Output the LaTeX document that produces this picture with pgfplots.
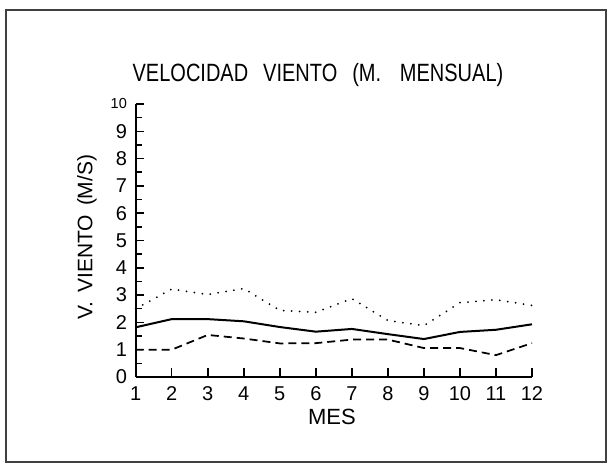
\documentclass[border=0pt]{standalone}
\usepackage{fontspec}
\setmainfont{Liberation Sans}
\newfontfamily\titlefont{Liberation Sans}[FakeStretch=0.8]
\usepackage{pgfplots}
\pgfplotsset{compat=1.18}
\begin{document}
\begin{tikzpicture}[x=0.4pt,y=0.4pt]
\path[use as bounding box] (0,0) rectangle (610,464);
\draw[line width=0.8pt, black!75] (6,2) rectangle (606,454);
\begin{axis}[
  at={(54.28pt,34.8pt)}, anchor=south west,
  scale only axis, width=158.5pt, height=109.2pt,
  xmin=1, xmax=12, ymin=0, ymax=10,
  axis lines*=left,
  axis line style={line width=0.8pt},
  xtick={1,...,12}, ytick={0,...,10},
  yticklabels={0,1,2,3,4,5,6,7,8,9,{\fontsize{5.8}{6}\selectfont 10}},
  minor y tick num=1,
  tick align=inside,
  major tick length=3.4pt, minor tick length=2.4pt,
  tick style={line width=0.6pt, black},
  /pgf/number format/assume math mode=true,
  tick label style={font=\fontsize{8}{9}\selectfont},
  xticklabel style={yshift=-0.4pt},
  title={\titlefont VELOCIDAD\hspace{6pt}VIENTO\hspace{6pt}(M.\hspace{7.5pt}MENSUAL)},
  title style={at={(axis description cs:0.46,1.052)}, anchor=center, font=\fontsize{10}{12}\selectfont},
  xlabel={MES},
  xlabel style={at={(axis description cs:0.495,-0.147)}, anchor=center, font=\fontsize{8.8}{10}\selectfont},
  ylabel={V.\hspace{3.5pt}VIENTO\hspace{3.5pt}(M/S)},
  ylabel style={at={(axis description cs:-0.123,0.513)}, anchor=center, rotate=0, font=\fontsize{8.4}{10}\selectfont},
  clip=false,
]
\addplot[black, line width=0.8pt] coordinates {
(1,1.82) (2,2.12) (3,2.12) (4,2.04) (5,1.83) (6,1.66) (7,1.76) (8,1.57) (9,1.39) (10,1.65) (11,1.73) (12,1.93)};
\addplot[black, line width=0.7pt, dash pattern=on 3.2pt off 2pt] coordinates {
(1,1.0) (2,1.0) (3,1.54) (4,1.41) (5,1.23) (6,1.24) (7,1.37) (8,1.37) (9,1.06) (10,1.06) (11,0.80) (12,1.24)};
\addplot[black, line width=0.8pt, line cap=round, dash pattern=on 0pt off 3.2pt] coordinates {
(1,2.5) (2,3.22) (3,3.02) (4,3.24) (5,2.44) (6,2.37) (7,2.87) (8,2.07) (9,1.88) (10,2.72) (11,2.83) (12,2.62)};
\end{axis}
\end{tikzpicture}
\end{document}
